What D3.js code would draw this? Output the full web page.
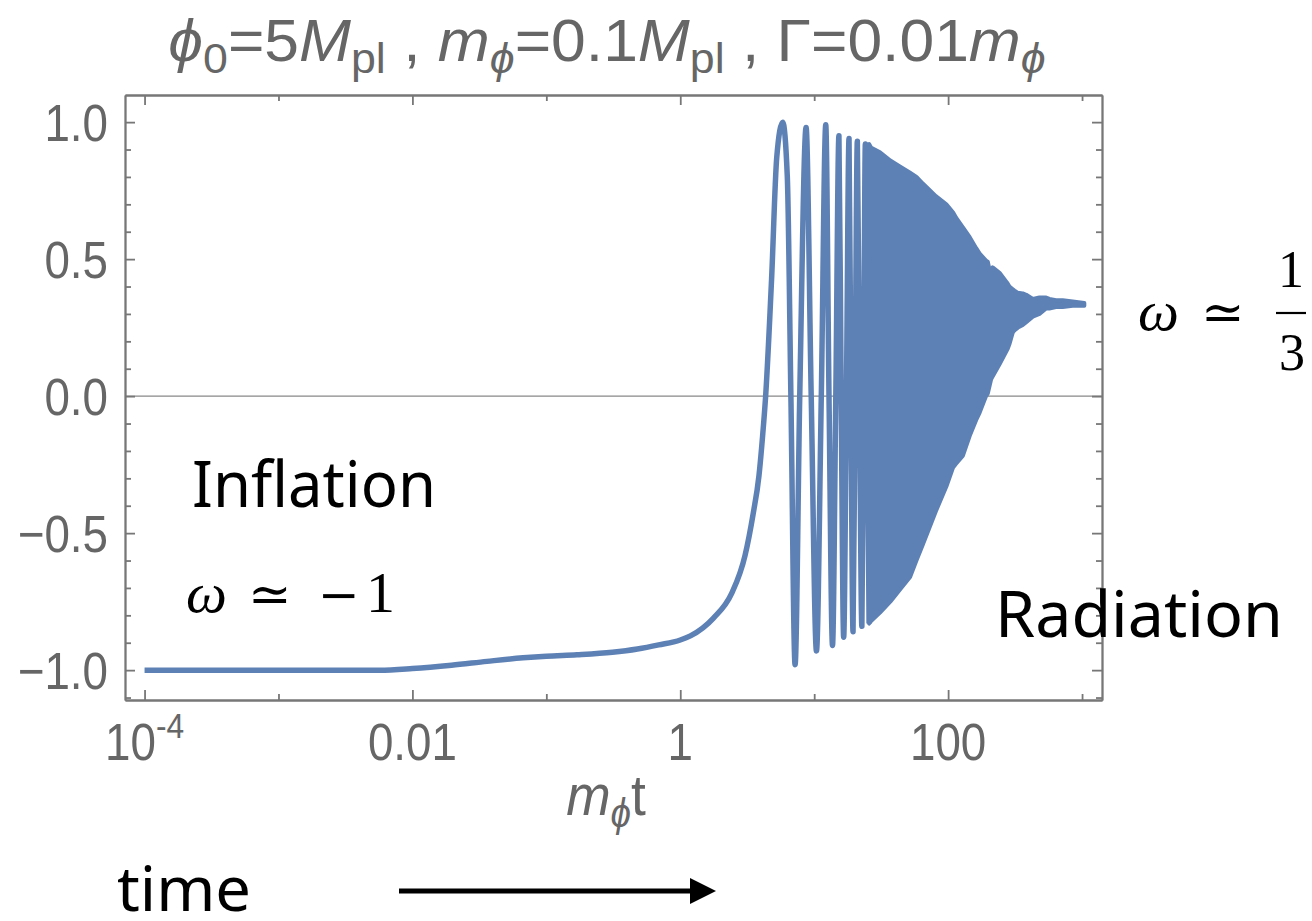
<!DOCTYPE html>
<html>
<head>
<meta charset="utf-8">
<script src="https://cdn.jsdelivr.net/npm/d3@7"></script>
<style>
  body { margin: 0; background: #fff; }
  svg { display: block; }
</style>
</head>
<body>
<svg width="1312" height="921"></svg>
<script>
// equation of state w(t)
// smooth part + first few oscillations (t in units of 1/m_phi)
var lineT = [1e-4, 1e-3, 0.0057, 0.01, 0.0196, 0.036, 0.067, 0.1, 0.169, 0.311, 0.479, 0.69,
             1, 1.19, 1.77, 2.42, 3.05, 3.5, 3.87, 4.12, 4.34, 4.81, 5.25, 5.82, 6.3, 6.7, 7.2, 7.8,
             8.7, 9.5, 10.4, 11.3, 12.2, 12.9, 13.7, 14.5, 15.3, 15.9, 16.6, 17.4, 18.2,
             18.8, 19.5, 20.2, 21.0, 21.8, 22.7, 23.4, 24.1, 24.9, 25.7];
var lineW = [-1, -1, -1, -0.994, -0.982, -0.968, -0.955, -0.949, -0.944, -0.935, -0.923, -0.908,
             -0.89, -0.875, -0.81, -0.72, -0.58, -0.43, -0.29, -0.145, 0, 0.43, 0.87, 1.0, 0.8, 0, -0.98, 0,
             0.98, 0, -0.93, 0, 0.99, 0, -0.91, 0, 0.95, 0, -0.88, 0, 0.94,
             0, -0.86, 0, 0.93, 0, -0.84, 0, 0.92, 0, -0.83];

// dense oscillations drawn as an envelope
var bandT  = [25.7, 26.7, 31, 37, 43, 52, 58, 65, 81, 97, 109, 115, 129, 145, 162, 172, 192, 198,
              209, 215, 242, 279, 287, 304, 313, 332, 361, 383, 429, 481, 539, 570, 639, 717, 851, 1040];
var bandHi = [0.92, 0.906, 0.89, 0.86, 0.84, 0.815, 0.80, 0.775, 0.73, 0.70, 0.67, 0.65, 0.616, 0.58,
              0.54, 0.52, 0.495, 0.49, 0.435, 0.47, 0.45, 0.41, 0.40, 0.39, 0.385, 0.377, 0.375, 0.37,
              0.355, 0.36, 0.36, 0.355, 0.35, 0.35, 0.345, 0.34];
var bandLo = [-0.83, -0.82, -0.79, -0.75, -0.71, -0.66, -0.60, -0.54, -0.42, -0.33, -0.26, -0.246,
              -0.217, -0.145, -0.087, -0.06, 0, 0.01, 0.06, 0.072, 0.116, 0.174, 0.19, 0.232, 0.24,
              0.25, 0.26, 0.27, 0.29, 0.30, 0.32, 0.32, 0.325, 0.325, 0.33, 0.33];

var xMajor = [1e-4, 1e-2, 1, 100];
var xMinor = [1e-3, 1e-1, 10, 1000];
var xLabels = ["10", "0.01", "1", "100"];
var yMajor = [-1, -0.5, 0, 0.5, 1];
var yLabels = ["\u22121.0", "\u22120.5", "0.0", "0.5", "1.0"];
var yMinor = [-1.1, -0.9, -0.8, -0.7, -0.6, -0.4, -0.3, -0.2, -0.1, 0.1, 0.2, 0.3, 0.4, 0.6, 0.7, 0.8, 0.9];

var blue = "#5e81b5", grey = "#666666";
var plotL = 125, plotR = 1102, plotT = 95, plotB = 700;

var svg = d3.select("svg");

var x = d3.scaleLog()
    .domain([Math.pow(10, -4.146), Math.pow(10, 3.149)])
    .range([plotL, plotR]);

var y = d3.scaleLinear()
    .domain([-1.109, 1.099])
    .range([plotB, plotT]);

// zero line
svg.append("line")
    .attr("x1", plotL).attr("x2", plotR)
    .attr("y1", y(0)).attr("y2", y(0))
    .attr("stroke", "#888").attr("stroke-width", 1.3);

// frame + inward ticks on all four sides
function frame(axis, tx, ty, vals, size) {
  var g = svg.append("g")
      .attr("transform", "translate(" + tx + "," + ty + ")")
      .call(axis.tickValues(vals).tickSize(-size).tickSizeOuter(0).tickFormat(""));
  g.selectAll("path, line").attr("stroke", "#777").attr("stroke-width", 1.8);
  return g;
}
frame(d3.axisBottom(x), 0, plotB, xMajor, 10);
frame(d3.axisBottom(x), 0, plotB, xMinor, 6);
frame(d3.axisTop(x), 0, plotT, xMajor, 10);
frame(d3.axisTop(x), 0, plotT, xMinor, 6);
frame(d3.axisLeft(y), plotL, 0, yMajor, 10);
frame(d3.axisLeft(y), plotL, 0, yMinor, 6);
frame(d3.axisRight(y), plotR, 0, yMajor, 10);
frame(d3.axisRight(y), plotR, 0, yMinor, 6);

// tick labels
var labFont = "'Liberation Sans', Arial, sans-serif";
svg.append("g").selectAll("text")
    .data(yMajor)
    .enter().append("text")
    .attr("transform", function(d) { return "translate(108," + (y(d) + 18.5) + ") scale(0.88,1)"; })
    .attr("text-anchor", "end")
    .attr("font-family", labFont)
    .attr("font-size", 52)
    .attr("fill", grey)
    .text(function(d, i) { return yLabels[i]; });

var xl = svg.append("g").selectAll("text")
    .data(xMajor)
    .enter().append("text")
    .attr("transform", function(d) { return "translate(" + x(d) + ",760) scale(0.88,1)"; })
    .attr("text-anchor", "middle")
    .attr("font-family", labFont)
    .attr("font-size", 52)
    .attr("fill", grey);
xl.append("tspan").text(function(d, i) { return xLabels[i]; });
xl.filter(function(d) { return d === 1e-4; })
  .append("tspan")
    .attr("dy", -22)
    .attr("font-size", 36)
    .text("-4");

// x axis label  m_phi t
var xlab = svg.append("text")
    .attr("transform", "translate(606,815) scale(0.92,1)")
    .attr("text-anchor", "middle")
    .attr("font-family", labFont)
    .attr("font-size", 58)
    .attr("fill", grey);
xlab.append("tspan").attr("font-style", "italic").text("m");
xlab.append("tspan").attr("font-style", "italic").attr("font-size", 40).attr("dy", 12).text("\u03d5");
xlab.append("tspan").attr("dy", -12).text("t");

// title
var title = svg.append("text")
    .attr("transform", "translate(607,61) scale(1.04,1)")
    .attr("text-anchor", "middle")
    .attr("font-family", labFont)
    .attr("font-size", 60)
    .attr("fill", grey);
var parts = [
  ["\u03d5", "i", 0], ["0", "", 1], ["=5", "", 0], ["M", "i", 0], ["pl", "", 1], [" , ", "", 0],
  ["m", "i", 0], ["\u03d5", "i", 1], ["=0.1", "", 0], ["M", "i", 0], ["pl", "", 1],
  [" , \u0393=0.01", "", 0], ["m", "i", 0], ["\u03d5", "i", 1]
];
var prevSub = 0;
parts.forEach(function(p) {
  var t = title.append("tspan").text(p[0]);
  if (p[1] === "i") t.attr("font-style", "italic");
  if (p[2]) t.attr("font-size", 43);
  t.attr("dy", (p[2] - prevSub) * 12);
  prevSub = p[2];
});

// the curve
var line = d3.line()
    .x(function(d, i) { return x(lineT[i]); })
    .y(function(d) { return y(d); })
    .curve(d3.curveMonotoneX);

svg.append("path")
    .attr("d", line(lineW))
    .attr("fill", "none")
    .attr("stroke", blue)
    .attr("stroke-width", 5.5)
    .attr("stroke-linejoin", "round");

var band = d3.area()
    .x(function(d, i) { return x(bandT[i]); })
    .y0(function(d, i) { return y(bandLo[i]); })
    .y1(function(d) { return y(d); });

svg.append("path")
    .attr("d", band(bandHi))
    .attr("fill", blue)
    .attr("stroke", blue)
    .attr("stroke-width", 4)
    .attr("stroke-linejoin", "round");

// annotations
var sans = "'Noto Sans', 'Open Sans', sans-serif";
var serif = "'Liberation Serif', 'DejaVu Serif', serif";
var mathSym = "'DejaVu Serif', serif";

svg.append("text")
    .attr("x", 192).attr("y", 507)
    .attr("font-family", sans).attr("font-size", 64)
    .attr("textLength", 244).attr("lengthAdjust", "spacingAndGlyphs")
    .text("Inflation");

svg.append("text")
    .attr("x", 995).attr("y", 637)
    .attr("font-family", sans).attr("font-size", 64)
    .attr("textLength", 288).attr("lengthAdjust", "spacingAndGlyphs")
    .text("Radiation");

svg.append("text")
    .attr("x", 117).attr("y", 911)
    .attr("font-family", sans).attr("font-size", 62)
    .attr("textLength", 134).attr("lengthAdjust", "spacingAndGlyphs")
    .text("time");

// w ~ -1
var w1 = svg.append("text")
    .attr("y", 612)
    .attr("font-family", serif).attr("font-size", 58);
w1.append("tspan").attr("x", 186).attr("font-style", "italic").text("\u03c9");
w1.append("tspan").attr("x", 248).attr("font-family", mathSym).attr("font-size", 52).text("\u2243");
w1.append("tspan").attr("x", 318).attr("font-family", mathSym).attr("font-size", 50).text("\u2212");
w1.append("tspan").attr("x", 366).text("1");

// w ~ 1/3
var w2 = svg.append("text")
    .attr("y", 330)
    .attr("font-family", serif).attr("font-size", 58);
w2.append("tspan").attr("x", 1138).attr("font-style", "italic").text("\u03c9");
w2.append("tspan").attr("x", 1201).attr("font-family", mathSym).attr("font-size", 52).text("\u2243");
svg.append("text")
    .attr("x", 1291).attr("y", 287)
    .attr("text-anchor", "middle")
    .attr("font-family", serif).attr("font-size", 52)
    .text("1");
svg.append("line")
    .attr("x1", 1276).attr("x2", 1306)
    .attr("y1", 313).attr("y2", 313)
    .attr("stroke", "#000").attr("stroke-width", 2.2);
svg.append("text")
    .attr("x", 1292).attr("y", 370)
    .attr("text-anchor", "middle")
    .attr("font-family", serif).attr("font-size", 52)
    .text("3");

// time arrow
svg.append("line")
    .attr("x1", 399).attr("x2", 692)
    .attr("y1", 891).attr("y2", 891)
    .attr("stroke", "#000").attr("stroke-width", 5);
svg.append("path")
    .attr("d", "M690,878 L716,891 L690,904 Z")
    .attr("fill", "#000");
</script>
</body>
</html>
